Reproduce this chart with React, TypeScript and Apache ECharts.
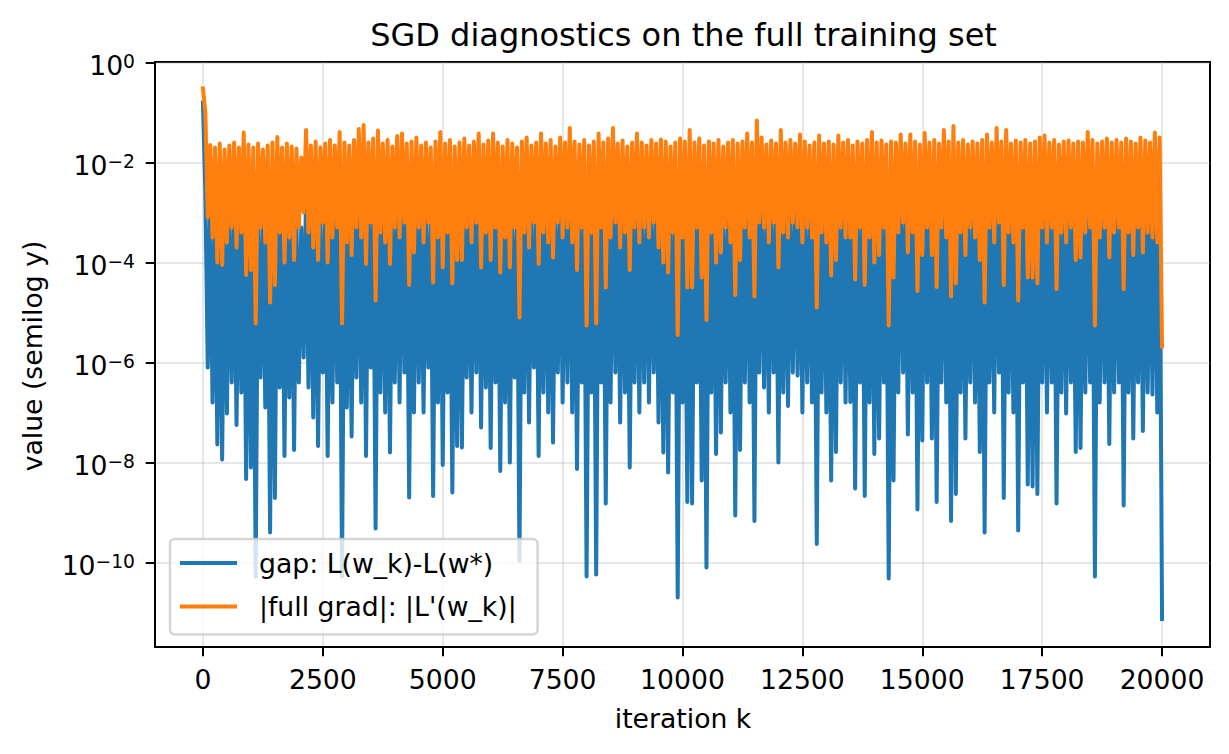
import { useEffect, useRef } from 'react';
import * as echarts from 'echarts';

const FONT = '"DejaVu Sans", sans-serif';
const BLUE = '#1f77b4';
const ORANGE = '#ff7f0e';

// values are log10 of the plotted quantity.
// peaks sit at k = 50, 150, 250, ... and dips at k = 100, 200, 300, ...
const gapStart = -0.8;
const gapPeaks = [
  -2.6, -3.0, -3.1, -2.95, -3.2, -3.0, -2.9, -3.1, -2.5, -3.0,
  -3.1, -2.95, -3.2, -3.0, -2.9, -2.7, -3.1, -2.95, -3.05, -3.15,
  -3.3, -2.6, -3.0, -2.85, -3.1, -2.95, -2.8, -3.0, -2.5, -2.9,
  -3.0, -2.8, -2.35, -2.2, -2.9, -2.75, -2.4, -2.95, -2.8, -3.05,
  -2.65, -2.55, -2.95, -2.85, -2.7, -3.0, -2.9, -3.1, -2.85, -2.5,
  -2.95, -2.8, -3.05, -2.9, -2.75, -3.0, -2.85, -2.55, -3.0, -2.8,
  -2.55, -2.9, -3.05, -2.8, -2.95, -3.1, -2.85, -2.7, -3.0, -2.9,
  -2.55, -2.95, -2.8, -3.05, -2.7, -2.9, -2.3, -2.85, -3.0, -2.8,
  -3.0, -2.85, -2.55, -2.9, -2.75, -2.3, -2.95, -2.8, -3.05, -2.9,
  -2.55, -2.9, -3.0, -2.8, -2.95, -2.8, -2.85, -3.05, -2.9, -2.75,
  -2.85, -2.4, -2.9, -2.75, -3.0, -2.85, -2.95, -2.8, -3.05, -2.9,
  -2.8, -2.95, -2.85, -2.55, -2.9, -2.1, -2.7, -3.0, -2.8, -2.95,
  -2.4, -2.9, -2.8, -2.95, -2.6, -2.85, -3.0, -2.9, -2.6, -2.95,
  -2.85, -3.0, -2.6, -2.9, -2.8, -3.0, -2.85, -2.95, -2.8, -2.5,
  -2.9, -2.8, -3.0, -2.85, -2.9, -2.6, -2.95, -2.6, -2.85, -3.0,
  -2.5, -2.9, -2.8, -2.95, -2.4, -2.85, -2.25, -2.9, -2.8, -3.0,
  -2.85, -2.95, -2.8, -2.6, -2.9, -2.3, -2.85, -2.4, -2.95, -2.8,
  -2.9, -2.8, -2.95, -2.85, -2.7, -2.6, -2.9, -2.8, -3.0, -2.85,
  -2.8, -2.95, -2.85, -2.9, -2.5, -2.8, -2.95, -2.85, -2.75, -2.9,
  -2.8, -2.9, -2.75, -2.85, -2.95, -2.7, -2.8, -2.9, -2.5, -2.7,
];
const gapDips = [
  -6.1, -6.8, -7.64, -7.94, -7.02, -6.4, -7.25, -6.6, -8.33, -8.1,
  -10.28, -6.3, -6.9, -9.4, -8.71, -6.5, -7.87, -6.7, -7.75, -6.4,
  -5.9, -6.5, -7.1, -7.67, -6.2, -7.87, -6.8, -6.4, -10.28, -6.9,
  -7.48, -6.3, -6.8, -7.87, -6.1, -9.32, -6.6, -7.0, -7.8, -6.4,
  -6.8, -6.2, -8.7, -7.0, -6.4, -7.0, -6.1, -8.67, -6.8, -8.05,
  -6.6, -8.6, -7.67, -7.7, -6.3, -7.0, -6.2, -7.3, -6.5, -7.71,
  -6.4, -8.17, -6.8, -8.0, -6.3, -9.97, -6.6, -7.2, -6.1, -7.87,
  -6.6, -7.0, -7.6, -6.2, -6.8, -6.4, -7.0, -8.13, -6.4, -10.28,
  -6.6, -10.24, -6.4, -8.82, -6.8, -6.2, -7.2, -6.6, -8.1, -6.4,
  -7.0, -6.4, -6.8, -6.2, -7.2, -7.8, -8.2, -6.6, -10.7, -6.8,
  -8.79, -8.82, -6.4, -8.36, -10.1, -6.6, -7.83, -7.4, -6.4, -7.0,
  -9.06, -7.75, -6.4, -6.8, -9.17, -6.2, -6.5, -7.0, -6.2, -8.0,
  -6.6, -6.87, -6.2, -6.26, -7.0, -6.4, -6.8, -9.63, -6.6, -7.0,
  -8.36, -7.79, -6.4, -6.8, -6.79, -8.52, -6.4, -8.67, -6.8, -7.83,
  -7.52, -6.4, -10.32, -8.36, -6.6, -6.2, -7.44, -6.6, -8.94, -7.56,
  -6.4, -7.52, -8.79, -6.4, -6.8, -9.17, -8.63, -6.6, -7.52, -6.4,
  -6.8, -7.79, -9.4, -6.4, -7.0, -6.2, -8.71, -6.6, -7.0, -9.36,
  -6.4, -8.44, -8.48, -8.63, -6.4, -7.0, -6.4, -8.82, -6.6, -7.02,
  -6.4, -7.79, -7.71, -6.6, -6.4, -10.28, -6.8, -6.4, -7.63, -6.6,
  -6.4, -8.86, -6.6, -7.52, -6.4, -7.37, -6.6, -6.64, -7.0, -11.13,
];

const gradStart = -0.52;
const gradPeaks = [
  -1.0, -1.65, -1.7, -1.62, -1.74, -1.66, -1.6, -1.7, -1.4, -1.64,
  -1.7, -1.62, -1.74, -1.66, -1.6, -1.49, -1.7, -1.62, -1.68, -1.72,
  -1.9, -1.35, -1.66, -1.58, -1.7, -1.62, -1.55, -1.66, -1.39, -1.6,
  -1.66, -1.55, -1.33, -1.25, -1.6, -1.52, -1.36, -1.62, -1.55, -1.68,
  -1.47, -1.42, -1.62, -1.58, -1.5, -1.66, -1.6, -1.7, -1.58, -1.39,
  -1.62, -1.55, -1.68, -1.6, -1.52, -1.66, -1.58, -1.42, -1.64, -1.56,
  -1.42, -1.6, -1.68, -1.55, -1.62, -1.7, -1.58, -1.5, -1.66, -1.6,
  -1.42, -1.62, -1.55, -1.68, -1.5, -1.6, -1.31, -1.58, -1.64, -1.55,
  -1.66, -1.58, -1.42, -1.6, -1.52, -1.31, -1.62, -1.56, -1.68, -1.6,
  -1.42, -1.6, -1.66, -1.55, -1.62, -1.54, -1.58, -1.68, -1.6, -1.52,
  -1.58, -1.35, -1.6, -1.52, -1.66, -1.58, -1.62, -1.55, -1.68, -1.6,
  -1.55, -1.62, -1.58, -1.42, -1.6, -1.16, -1.5, -1.64, -1.56, -1.62,
  -1.35, -1.6, -1.55, -1.62, -1.44, -1.58, -1.66, -1.6, -1.46, -1.62,
  -1.58, -1.64, -1.46, -1.6, -1.55, -1.66, -1.58, -1.62, -1.55, -1.39,
  -1.6, -1.56, -1.64, -1.58, -1.6, -1.44, -1.62, -1.44, -1.58, -1.64,
  -1.41, -1.6, -1.55, -1.62, -1.35, -1.58, -1.27, -1.6, -1.55, -1.64,
  -1.58, -1.62, -1.55, -1.44, -1.6, -1.31, -1.58, -1.35, -1.62, -1.56,
  -1.6, -1.55, -1.62, -1.58, -1.5, -1.46, -1.6, -1.55, -1.64, -1.58,
  -1.56, -1.62, -1.58, -1.6, -1.39, -1.55, -1.62, -1.58, -1.52, -1.6,
  -1.55, -1.6, -1.52, -1.58, -1.62, -1.5, -1.56, -1.6, -1.4, -1.5,
];
const gradDips = [
  -3.1, -3.5, -4.0, -4.05, -3.6, -3.3, -3.7, -3.4, -4.25, -4.15,
  -5.22, -3.3, -3.6, -4.8, -4.45, -3.4, -4.0, -3.5, -3.95, -3.3,
  -3.0, -3.4, -3.7, -3.95, -3.2, -4.0, -3.5, -3.3, -5.22, -3.6,
  -3.85, -3.3, -3.5, -4.03, -3.2, -4.76, -3.4, -3.6, -4.03, -3.3,
  -3.5, -3.2, -4.45, -3.8, -3.3, -3.6, -3.2, -4.4, -3.5, -4.1,
  -3.4, -4.42, -3.95, -3.95, -3.3, -3.6, -3.2, -4.1, -3.4, -3.95,
  -3.3, -4.2, -3.5, -4.1, -3.3, -5.1, -3.4, -3.7, -3.2, -4.03,
  -3.4, -3.6, -3.9, -3.2, -3.5, -3.3, -3.6, -4.15, -3.3, -5.26,
  -3.4, -5.22, -3.3, -4.5, -3.5, -3.2, -3.7, -3.4, -4.15, -3.3,
  -3.6, -3.3, -3.5, -3.2, -3.7, -4.0, -4.2, -3.4, -5.45, -3.5,
  -4.5, -4.5, -3.3, -4.3, -5.15, -3.4, -4.0, -3.8, -3.3, -3.6,
  -4.65, -3.95, -3.3, -3.5, -4.68, -3.2, -3.3, -3.6, -3.2, -4.1,
  -3.4, -3.5, -3.2, -3.3, -3.6, -3.3, -3.5, -4.9, -3.4, -3.6,
  -4.26, -3.95, -3.3, -3.5, -3.5, -4.34, -3.3, -4.45, -3.5, -4.0,
  -3.85, -3.3, -5.26, -4.3, -3.4, -3.2, -3.8, -3.4, -4.57, -3.85,
  -3.3, -3.85, -4.49, -3.3, -3.5, -4.68, -4.42, -3.4, -3.85, -3.3,
  -3.5, -3.95, -4.8, -3.3, -3.6, -3.2, -4.45, -3.4, -3.6, -4.76,
  -3.3, -4.3, -4.3, -4.42, -3.3, -3.6, -3.3, -4.53, -3.4, -3.6,
  -3.3, -3.95, -3.9, -3.4, -3.3, -5.26, -3.5, -3.3, -3.9, -3.4,
  -3.3, -4.53, -3.4, -3.85, -3.3, -3.8, -3.4, -3.5, -3.6, -5.68,
];

const xTicks = [0, 2500, 5000, 7500, 10000, 12500, 15000, 17500, 20000];
const yTicks = [1, 1e-2, 1e-4, 1e-6, 1e-8, 1e-10];

const GAP_NAME = 'gap: L(w_k)-L(w*)';
const GRAD_NAME = "|full grad|: |L'(w_k)|";

function toPoints(start: number, peaks: number[], dips: number[]) {
  const pts: [number, number][] = [[0, 10 ** start]];
  peaks.forEach((p, i) => {
    pts.push([i * 100 + 50, 10 ** p]);
    pts.push([i * 100 + 100, 10 ** dips[i]]);
  });
  return pts;
}

export default function App() {
  const ref = useRef<HTMLDivElement>(null);

  useEffect(() => {
    document.body.style.margin = '0';
    if (!ref.current) return;
    const chart = echarts.init(ref.current, null, { renderer: 'svg' });

    const tickFont = { fontFamily: FONT, fontSize: 26.67, color: '#000' };
    const grid = { color: '#b0b0b0', opacity: 0.3, width: 2 };
    const spine = { color: '#000', width: 2 };

    chart.setOption({
      animation: false,
      backgroundColor: '#fff',
      textStyle: { fontFamily: FONT },
      grid: {
        left: 155,
        right: 19,
        top: 62,
        bottom: 107,
        show: true,
        borderColor: '#000',
        borderWidth: 2,
        outerBoundsMode: 'none',
      },
      graphic: [
        {
          type: 'text',
          x: 683.5,
          y: 35,
          style: {
            text: 'SGD diagnostics on the full training set',
            fontFamily: FONT,
            fontSize: 32,
            fill: '#000',
            align: 'center',
            verticalAlign: 'middle',
          },
        },
        {
          type: 'text',
          x: 683,
          y: 718,
          style: {
            text: 'iteration k',
            fontFamily: FONT,
            fontSize: 26.67,
            fill: '#000',
            align: 'center',
            verticalAlign: 'middle',
          },
        },
        {
          type: 'text',
          x: 32,
          y: 356,
          rotation: Math.PI / 2,
          style: {
            text: 'value (semilog y)',
            fontFamily: FONT,
            fontSize: 26.67,
            fill: '#000',
            align: 'center',
            verticalAlign: 'middle',
          },
        },
      ],
      legend: {
        orient: 'vertical',
        left: 170,
        top: 539,
        icon: 'rect',
        itemWidth: 57,
        itemHeight: 4,
        itemGap: 16.3,
        padding: [10.6, 21, 14.6, 10],
        backgroundColor: 'rgba(255,255,255,0.8)',
        borderColor: 'rgba(204,204,204,0.8)',
        borderWidth: 2.5,
        borderRadius: 5,
        textStyle: { ...tickFont, padding: [0, 0, 0, 17] },
        data: [GAP_NAME, GRAD_NAME],
      },
      xAxis: {
        type: 'value',
        min: -1000,
        max: 21000,
        axisLine: { show: true, onZero: false, lineStyle: spine },
        axisTick: { show: true, length: 9.3, lineStyle: spine, customValues: xTicks },
        axisLabel: {
          ...tickFont,
          margin: 19,
          customValues: xTicks,
          formatter: (v: number) => String(v),
        },
        splitLine: { show: true, lineStyle: grid },
      },
      yAxis: {
        type: 'log',
        logBase: 10,
        min: 10 ** -11.69,
        max: 10 ** 0.01,
        axisLine: { show: true, onZero: false, lineStyle: spine },
        axisTick: { show: true, length: 9.3, lineStyle: spine, customValues: yTicks },
        axisLabel: {
          margin: 20,
          customValues: yTicks,
          padding: [6, 0, 0, 0],
          formatter: (v: number) => {
            const e = Math.round(Math.log10(v));
            return `{b|10}{s|${e < 0 ? '\u2212' + -e : e}}`;
          },
          rich: {
            b: { ...tickFont },
            s: { fontFamily: FONT, fontSize: 18.7, color: '#000', lineHeight: 10, verticalAlign: 'top' },
          },
        },
        splitLine: { show: true, lineStyle: grid },
      },
      series: [
        {
          name: GAP_NAME,
          type: 'line',
          data: toPoints(gapStart, gapPeaks, gapDips),
          symbol: 'none',
          itemStyle: { color: BLUE },
          lineStyle: { color: BLUE, width: 4, join: 'round', cap: 'square' },
        },
        {
          name: GRAD_NAME,
          type: 'line',
          data: toPoints(gradStart, gradPeaks, gradDips),
          symbol: 'none',
          itemStyle: { color: ORANGE },
          lineStyle: { color: ORANGE, width: 4, join: 'round', cap: 'square' },
        },
      ],
    });

    return () => chart.dispose();
  }, []);

  return <div ref={ref} style={{ width: 1229, height: 754 }} />;
}
